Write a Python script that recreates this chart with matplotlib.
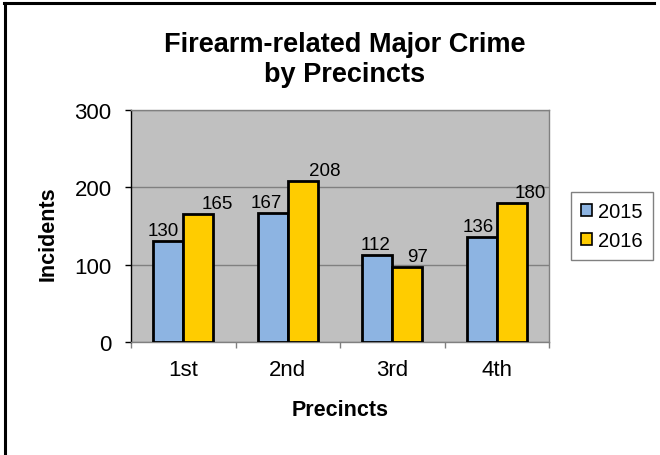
import matplotlib
matplotlib.use("Agg")
import matplotlib.pyplot as plt
from matplotlib.patches import Patch
from matplotlib.lines import Line2D
import numpy as np

plt.rcParams["font.family"] = ["Liberation Sans", "DejaVu Sans"]

# data
precincts = ["1st", "2nd", "3rd", "4th"]
years = ["2015", "2016"]
inc_2015 = [130, 167, 112, 136]
inc_2016 = [165, 208, 97, 180]
# data label nudges in pixels (Excel placed them unevenly)
lab_dx_2015 = [-5, -6, -2, -4]
lab_dx_2016 = [19, 22, 10, 19]

c2015 = "#8DB4E2"
c2016 = "#FFCC00"

W, H = 660, 456
fig = plt.figure(figsize=(W / 100, H / 100), dpi=100)
ax = fig.add_axes([131 / W, 1 - 343 / H, 418 / W, 232 / H])
ax.set_facecolor("#C0C0C0")

x = np.arange(len(precincts))
bw = 0.287
b1 = ax.bar(x - bw / 2, inc_2015, bw, color=c2015, edgecolor="black", linewidth=2, zorder=3)
b2 = ax.bar(x + bw / 2, inc_2016, bw, color=c2016, edgecolor="black", linewidth=2, zorder=3)

for bars, vals, dxs in [(b1, inc_2015, lab_dx_2015), (b2, inc_2016, lab_dx_2016)]:
    for b, v, dx in zip(bars, vals, dxs):
        ax.annotate(str(v), (b.get_x() + b.get_width() / 2, v),
                    xytext=(dx, 2), textcoords="offset pixels",
                    ha="center", va="bottom", fontsize=13.5, zorder=4)

ax.set_xlim(-0.5, len(precincts) - 0.5)
ax.set_ylim(0, 300)
ax.set_yticks([0, 100, 200, 300])
ax.yaxis.grid(True, color="#808080", linewidth=1)
ax.set_axisbelow(True)

ax.set_xticks(x)
ax.set_xticklabels(precincts)
ax.set_xticks(np.arange(-0.5, len(precincts)), minor=True)
ax.tick_params(axis="x", which="major", length=0, pad=12, labelsize=16)
ax.tick_params(axis="x", which="minor", length=4, color="#808080", width=1)
ax.tick_params(axis="y", length=4, width=1, pad=10, labelsize=16)

for side in ["top", "right", "bottom"]:
    ax.spines[side].set_color("#808080")
    ax.spines[side].set_linewidth(1)
ax.spines["left"].set_color("black")
ax.spines["left"].set_linewidth(1)

ax.set_ylabel("Incidents", fontsize=15.5, fontweight="bold")
ax.yaxis.set_label_coords(-72 / 418, 0.47)
ax.set_xlabel("Precincts", fontsize=15.5, fontweight="bold")
ax.xaxis.set_label_coords(0.5, -57 / 232)

fig.text(345 / W, 1 - 60 / H, "Firearm-related Major Crime\nby Precincts",
         ha="center", va="center", fontsize=19.5, fontweight="bold", linespacing=1.22)

handles = [Patch(facecolor=c2015, edgecolor="black", linewidth=1.2),
           Patch(facecolor=c2016, edgecolor="black", linewidth=1.2)]
leg = fig.legend(handles, years, loc="upper left",
                 bbox_to_anchor=(571 / W, 1 - 193 / H), bbox_transform=fig.transFigure,
                 fontsize=14.5, frameon=True, fancybox=False, framealpha=1,
                 handlelength=0.55, handleheight=0.55, handletextpad=0.3,
                 labelspacing=0.5, borderpad=0.5, borderaxespad=0)
leg.get_frame().set_edgecolor("#808080")
leg.get_frame().set_linewidth(1)

# chart-area border (only top and left visible)
fig.add_artist(Line2D([4 / W, 654 / W], [1 - 4 / H, 1 - 4 / H], transform=fig.transFigure,
                      color="black", linewidth=2.2))
fig.add_artist(Line2D([5 / W, 5 / W], [1 - 4 / H, 0], transform=fig.transFigure,
                      color="black", linewidth=2.2))

fig.savefig("out.png", dpi=100)
